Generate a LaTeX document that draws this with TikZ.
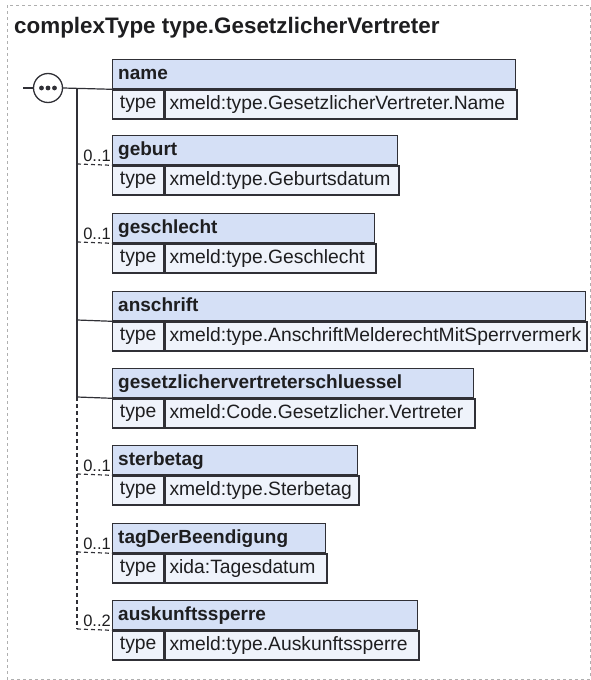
\documentclass[tikz,border=0pt]{standalone}
\usepackage{fontspec}
\setmainfont{Liberation Sans}
\definecolor{hdr}{RGB}{213,224,246}
\definecolor{rowc}{RGB}{239,243,251}
\definecolor{edge}{RGB}{48,48,54}
\definecolor{txt}{RGB}{30,30,32}
\definecolor{frame}{RGB}{175,175,175}
\tikzset{
  hbox/.style={draw=edge, fill=hdr, line width=1.3pt, anchor=north west, minimum height=29pt, inner sep=0pt},
  tbox/.style={draw=edge, fill=rowc, line width=1.3pt, anchor=north west, minimum height=29pt, minimum width=51pt, inner sep=0pt, text height=14pt, text depth=5pt, text=txt, font=\fontsize{19.3}{22}\selectfont},
  vbox/.style={draw=edge, fill=rowc, line width=1.3pt, anchor=north west, minimum height=29pt, inner sep=0pt},
  nametxt/.style={anchor=base west, inner sep=0pt, text=txt, font=\fontsize{19}{22}\selectfont\bfseries},
  valtxt/.style={anchor=base west, inner sep=0pt, text=txt, font=\fontsize{19.3}{22}\selectfont},
  occ/.style={anchor=base east, inner sep=0pt, text=txt, font=\fontsize{16.5}{18}\selectfont},
  conn/.style={draw=edge, line width=1.2pt},
  optconn/.style={draw=edge, line width=1.2pt, dash pattern=on 4pt off 3pt},
}
% #1 id, #2 separator y, #3 right x, #4 name, #5 type text
\newcommand\xelem[5]{%
  \pgfmathsetmacro\hw{#3-112}%
  \pgfmathsetmacro\vw{#3-163}%
  \pgfmathsetmacro\tp{#2-29}%
  \node[hbox, minimum width=\hw pt] (h#1) at (112,\tp) {};
  \node[nametxt] (n#1) at ([xshift=6pt,yshift=-20pt]h#1.north west) {#4};
  \node[tbox] (t#1) at (h#1.south west) {type};
  \node[vbox, minimum width=\vw pt] (v#1) at (t#1.north east) {};
  \node[valtxt] (x#1) at ([xshift=5pt,yshift=-20pt]v#1.north west) {#5};
}
\begin{document}
\begin{tikzpicture}[x=1pt,y=-1pt]
\useasboundingbox (0,0) rectangle (591,680);
\draw[frame, line width=1pt, dash pattern=on 3pt off 3pt] (7,5) rectangle (590,679);
\node[anchor=base west, inner sep=0pt, text=txt, font=\fontsize{22.4}{26}\selectfont\bfseries] (title) at (14,33) {complexType type.GesetzlicherVertreter};

% spine coordinates
\coordinate (in) at (23,88);
\coordinate (s0) at (77,88);
\coordinate (s2) at (77,164);
\coordinate (s3) at (77,242);
\coordinate (s4) at (77,320);
\coordinate (s5) at (77,397);
\coordinate (s6) at (77,474);
\coordinate (s7) at (77,552);
\coordinate (s8) at (77,629);

\node[circle, draw=edge, fill=white, line width=1.3pt, minimum size=29pt, inner sep=0pt] (seq) at (48,88) {};
\fill[edge] (41.5,88) circle (2.4) (48,88) circle (2.4) (54.5,88) circle (2.4);

\draw[conn] (in) -- (seq.west);
\draw[conn] (s0) -- (s5);
\draw[optconn] (s5) -- (s8);

\xelem{1}{88}{515}{name}{xmeld:type.GesetzlicherVertreter.Name}
\xelem{2}{164}{397}{geburt}{xmeld:type.Geburtsdatum}
\xelem{3}{242}{374}{geschlecht}{xmeld:type.Geschlecht}
\xelem{4}{320}{585}{anschrift}{xmeld:type.AnschriftMelderechtMitSperrvermerk}
\xelem{5}{397}{473}{gesetzlichervertreterschluessel}{xmeld:Code.Gesetzlicher.Vertreter}
\xelem{6}{474}{357}{sterbetag}{xmeld:type.Sterbetag}
\xelem{7}{552}{325}{tagDerBeendigung}{xida:Tagesdatum}
\xelem{8}{629}{417}{auskunftssperre}{xmeld:type.Auskunftssperre}

\draw[conn] (seq.east) -- (h1.south west);
\draw[optconn] (s2) -- (h2.south west);
\draw[optconn] (s3) -- (h3.south west);
\draw[conn] (s4) -- (h4.south west);
\draw[conn] (s5) -- (h5.south west);
\draw[optconn] (s6) -- (h6.south west);
\draw[optconn] (s7) -- (h7.south west);
\draw[optconn] (s8) -- (h8.south west);

\node[occ] (o2) at (111,161) {0..1};
\node[occ] (o3) at (111,239) {0..1};
\node[occ] (o6) at (111,471) {0..1};
\node[occ] (o7) at (111,549) {0..1};
\node[occ] (o8) at (111,626) {0..2};
\end{tikzpicture}
\end{document}
